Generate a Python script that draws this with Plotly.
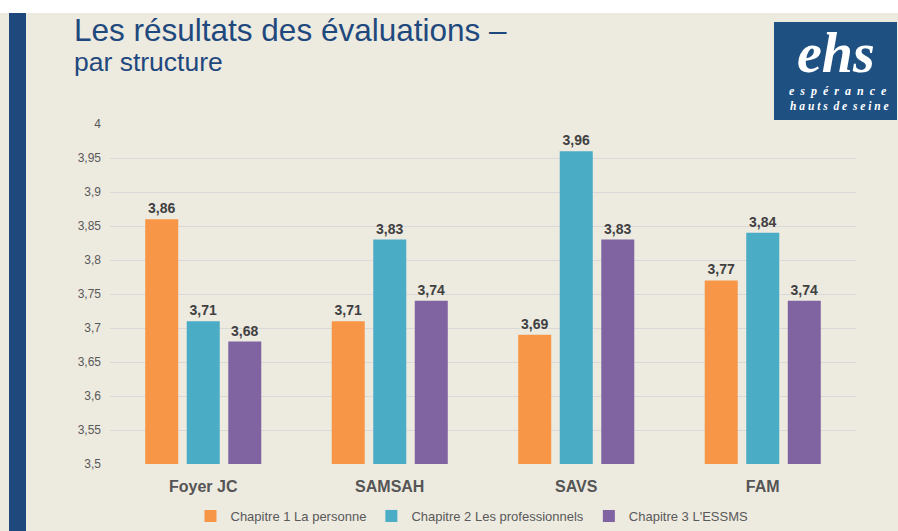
import plotly.graph_objects as go

categories = ["Foyer JC", "SAMSAH", "SAVS", "FAM"]
series_names = ["Chapitre 1 La personne", "Chapitre 2 Les professionnels", "Chapitre 3 L'ESSMS"]
chap1 = [3.86, 3.71, 3.69, 3.77]
chap2 = [3.71, 3.83, 3.96, 3.84]
chap3 = [3.68, 3.74, 3.83, 3.74]
colors = ["#F79646", "#4BACC6", "#8064A2"]
y_ticks = [3.5, 3.55, 3.6, 3.65, 3.7, 3.75, 3.8, 3.85, 3.9, 3.95, 4]

W, H = 898, 531
ML, MR, MT, MB = 110, 42, 124, 67
PW, PH = W - ML - MR, H - MT - MB

def px(x):
    return (x - ML) / PW

def py(y):
    return 1 - (y - MT) / PH

BG = "#EDEAE0"
SANS = "Liberation Sans, Arial, sans-serif"
SERIF = "Liberation Serif, DejaVu Serif, serif"
NB = "\u00a0"

fig = go.Figure()
for name, vals, col in zip(series_names, [chap1, chap2, chap3], colors):
    fig.add_trace(go.Bar(
        x=categories, y=vals, name=name, marker_color=col,
        marker_line_width=0,
        texttemplate="<b>%{y:.2f}</b>", textposition="outside", cliponaxis=False,
        textfont=dict(family=SANS, size=14, color="#404040"),
    ))

shapes = [
    dict(type="rect", xref="paper", yref="paper", x0=px(0), x1=px(W), y0=py(0), y1=py(13),
         fillcolor="white", line_width=0, layer="above"),
    dict(type="rect", xref="paper", yref="paper", x0=px(9), x1=px(26), y0=py(13), y1=py(H),
         fillcolor="#1F497D", line_width=0, layer="above"),
    dict(type="rect", xref="paper", yref="paper", x0=px(774), x1=px(897), y0=py(22), y1=py(120),
         fillcolor="#1E5082", line_width=0, layer="above"),
]

esperance = (NB + NB).join(list("espérance"))
hauts = (NB + NB).join(NB.join(list(w)) for w in ["hauts", "de", "seine"])

annotations = [
    dict(text="Les résultats des évaluations –", xref="paper", yref="paper", x=px(72), y=py(30),
         xanchor="left", yanchor="middle", showarrow=False,
         font=dict(family=SANS, size=31.5, color="#1F497D")),
    dict(text="par structure", xref="paper", yref="paper", x=px(72), y=py(62),
         xanchor="left", yanchor="middle", showarrow=False,
         font=dict(family=SANS, size=26.5, color="#1F497D")),
    dict(text="<b><i>ehs</i></b>", xref="paper", yref="paper", x=px(836), y=py(53),
         xanchor="center", yanchor="middle", showarrow=False,
         font=dict(family=SERIF, size=56, color="white")),
    dict(text="<b><i>" + esperance + "</i></b>", xref="paper", yref="paper", x=px(838), y=py(91.5),
         xanchor="center", yanchor="middle", showarrow=False,
         font=dict(family=SERIF, size=12, color="white")),
    dict(text="<b><i>" + hauts + "</i></b>", xref="paper", yref="paper", x=px(839), y=py(106.5),
         xanchor="center", yanchor="middle", showarrow=False,
         font=dict(family=SERIF, size=11.5, color="white")),
]

fig.update_layout(
    width=W, height=H,
    margin=dict(l=ML, r=MR, t=MT, b=MB, autoexpand=False),
    paper_bgcolor=BG, plot_bgcolor=BG,
    barmode="group", bargap=0.332, bargroupgap=0.205,
    separators=", ",
    showlegend=True,
    legend=dict(orientation="h", x=px(472), xanchor="center", y=py(516), yanchor="middle",
                font=dict(family=SANS, size=13, color="#595959"),
                itemwidth=30, bgcolor="rgba(0,0,0,0)"),
    shapes=shapes, annotations=annotations,
    xaxis=dict(showgrid=False, showline=False, ticks="", ticklabelstandoff=11,
               tickfont=dict(family=SANS, size=16, color="#555555", weight="bold")),
    yaxis=dict(range=[3.5, 4], tickvals=y_ticks, showgrid=True, gridcolor="#D9D9D9",
               gridwidth=1, zeroline=False, showline=False, ticks="", ticklabelstandoff=8,
               tickfont=dict(family=SANS, size=12, color="#595959")),
    font=dict(family=SANS),
)

fig.write_html("out.html", config={"displayModeBar": False},
               post_script="document.body.style.margin='0';document.body.style.overflow='hidden';")
